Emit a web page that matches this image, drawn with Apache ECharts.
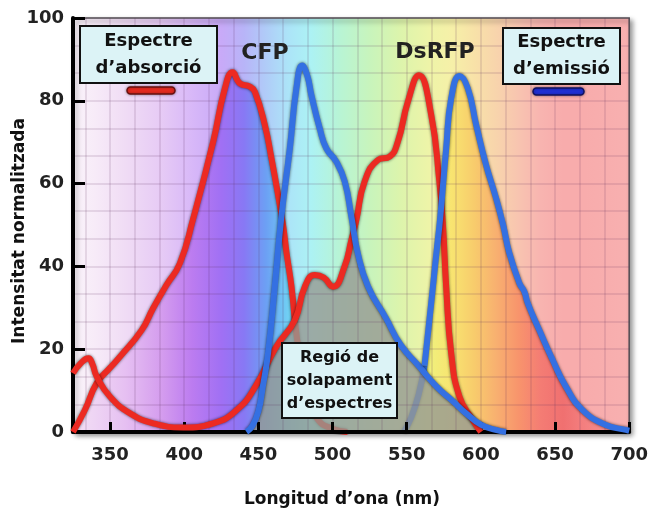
<!DOCTYPE html>
<html><head><meta charset="utf-8">
<script src="https://cdn.jsdelivr.net/npm/echarts@6/dist/echarts.min.js"></script>
<style>html,body{margin:0;padding:0;background:#fff}#c{width:651px;height:515px}</style>
</head><body><div id="c"></div>
<script>
// ---- data ----
const xTicks = [350, 400, 450, 500, 550, 600, 650, 700];
const yTicks = [0, 20, 40, 60, 80, 100];

// CFP absorption (red, visible part)
const cfpAbs = [[325,0],[333,5.3],[341,11.8],[350,15.5],[356.7,18.2],[371.3,24.6],[379,29.9],[388,35.5],[397,40.7],[406,51.5],[419.5,70.1],[427.4,83],[432.6,86.9],[437.5,84.2],[444.2,83.4],[447.6,82.2],[454.3,74.2],[458.8,66.1],[463.3,57.2],[466.6,50],[469,43.2],[472.3,35.1],[474.5,27]];
// CFP absorption tail hidden under the overlap region
const cfpAbsTail = [[474.5,27],[478,18],[483,9],[490,3],[500,0.8],[510,0]];
// DsRFP absorption (red)
const dsAbs = [[325,14.2],[330,16.5],[335.4,17.8],[338,16.5],[341,13.4],[350,8.5],[363.5,4.5],[379,2.1],[399.3,1.1],[419.5,2.1],[435.3,5.3],[448,11],[462,20.6],[474.5,27],[481.3,35.1],[488,37.9],[494,37.3],[500.3,35.1],[508,39.9],[512.7,46.4],[516,51.2],[521.6,60.5],[530.6,65.7],[538.5,66.5],[544,70.1],[550.8,79.8],[558.2,86.2],[566.5,76.6],[572,60.5],[574.4,50],[576.6,35.1],[580,19],[585.6,8.5],[594.5,2.9],[600,0]];
// CFP emission (blue)
const cfpEm = [[442,0],[446,1.5],[450,5],[453,11],[456.5,19],[461,35],[465.5,52],[471.2,68.5],[475.6,83],[479.5,88.5],[483,86],[485.7,81.4],[491.3,73.4],[495.8,68.5],[502.5,65.3],[508.2,60.5],[512.7,52],[517,43.2],[524,35.1],[536,27.5],[546,21],[558,16],[570,11],[581,7.5],[590,4.5],[600,1.8],[610,0.5],[617,0]];
// DsRFP emission start hidden under the overlap region
const dsEmHead = [[548,0],[553,3.5],[558,9],[562,16]];
// DsRFP emission (blue, visible part)
const dsEm = [[562,16],[566.5,31.1],[570,43.2],[572.5,51.5],[576.6,68.5],[580,80.6],[585.6,86],[591.2,83],[596.8,74.2],[603.5,64.5],[610.3,56.4],[615,50],[619.2,43.2],[626,35.9],[629.3,33.9],[631.6,31.1],[639.4,24.6],[648.4,17.4],[657.4,10.9],[668.6,5.3],[684.3,1.7],[697.8,0.5],[700,0.3]];
// Grey overlap region boundary
const overlap = [[442,0],[446,1.5],[450,5],[453,11],[455,15.5],[462,20.6],[474.5,27],[481.3,35.1],[488,37.9],[494,37.3],[500.3,35.1],[508,39.9],[512,45],[514.5,48.5],[517,43.2],[524,35.1],[536,27.5],[546,21],[558,16],[570,11],[581,7.5],[590,4.5],[597,1.2],[600,0]];

// ---- styles ----
const FONT = 'DejaVu Sans';
const GL = 73, GR = 630;
const bandNm = [325,340,360,385,405,425,440,455,470,485,505,525,545,565,580,595,610,625,640,655,670,700];
const washCol = ['#faf3fa','#f7ebf8','#f0dcf5','#e6caf5','#d8b8f8','#c8aaf8','#b8b4f8','#b0ccf8','#ace4f8','#acf2f4','#b8f4d4','#c8f4bc','#dcf4ac','#eef4a8','#f6f0a8','#f8e2a8','#f8d4ac','#f8c4b0','#f8b4b0','#f8acac','#f8acac','#f8b0b0'];
const satCol = ['#f4e0f4','#eed4f4','#e6c0f2','#d49cee','#bc7cf0','#a070f4','#8878f4','#6ca0f4','#70d0f4','#80ecec','#90f0c0','#b0f09c','#d4f08c','#f0f07c','#f8e470','#f8cc6c','#f8b070','#f8946c','#f47c74','#f07070','#f48080','#f89898'];
function grad(cols){
  return new echarts.graphic.LinearGradient(GL, 0, GR, 0,
    bandNm.map((n,i)=>({offset:(n-325)/375, color:cols[i]})), true);
}
const RED = '#ec2a22', BLUE = '#3470e2';
const SM = 0.5;
const gridLine = {show:true, lineStyle:{color:'rgba(90,50,90,0.13)', width:2}};
function curve(name, data, color, z){
  return {name, type:'line', data, z, smooth:SM, symbol:'none', silent:true,
    lineStyle:{color, width:6, shadowColor:'rgba(0,0,0,0.65)', shadowBlur:3}};
}
function area(data, color, z){
  return {type:'line', data, z, smooth:SM, symbol:'none', silent:true,
    lineStyle:{width:0}, areaStyle:{color, opacity:1}};
}

const chart = echarts.init(document.getElementById('c'));
chart.setOption({
  animation:false,
  grid:{left:GL, right:651-GR, top:18, bottom:83, show:true, borderColor:'#555', borderWidth:1.5,
    backgroundColor:grad(washCol), shadowColor:'rgba(0,0,0,0.45)', shadowBlur:5, shadowOffsetX:3, shadowOffsetY:3},
  xAxis:{type:'value', min:325, max:700, splitNumber:7, z:2,
    axisLine:{onZero:false, lineStyle:{color:'#000', width:4}},
    axisTick:{inside:true, length:10, customValues:xTicks, lineStyle:{color:'#000', width:3}},
    axisLabel:{customValues:xTicks, margin:14, color:'#222', fontFamily:FONT, fontWeight:'bold', fontSize:18},
    splitLine:gridLine, minorTick:{show:false, splitNumber:3}, minorSplitLine:gridLine},
  yAxis:{type:'value', min:0, max:100, interval:20, z:2,
    axisLine:{show:true, lineStyle:{color:'#000', width:4}},
    axisTick:{show:true, inside:true, length:12, lineStyle:{color:'#000', width:3}},
    axisLabel:{margin:9, color:'#222', fontFamily:FONT, fontWeight:'bold', fontSize:18},
    splitLine:gridLine, minorTick:{show:false, splitNumber:3}, minorSplitLine:gridLine},
  series:[
    area(cfpAbs.concat(cfpAbsTail.slice(1)), grad(satCol), 1),
    area(dsEmHead.concat(dsEm.slice(1)), grad(satCol), 1),
    curve('cfpAbsTail', cfpAbsTail, RED, 1.2),
    curve('dsEmHead', dsEmHead, BLUE, 1.2),
    area(overlap, 'rgba(150,152,146,0.8)', 1.5),
    curve('CFP absorció', cfpAbs, RED, 3),
    curve('DsRFP absorció', dsAbs, RED, 3),
    curve('CFP emissió', cfpEm, BLUE, 3),
    curve('DsRFP emissió', dsEm, BLUE, 3)
  ],
  graphic:[
    {type:'rect', z:10, shape:{x:80, y:26, width:137, height:57}, style:{fill:'#dcf3f6', stroke:'#111', lineWidth:2}},
    {type:'text', z:11, x:148.5, y:55, style:{text:'Espectre\nd’absorció', font:'bold 18px "DejaVu Sans"', fill:'#111', align:'center', verticalAlign:'middle', lineHeight:27}},
    {type:'rect', z:10, shape:{x:127, y:87, width:48, height:7, r:3.5}, style:{fill:'#e82a20', stroke:'#6a1010', lineWidth:1.5, shadowColor:'rgba(0,0,0,0.4)', shadowBlur:3}},
    {type:'rect', z:10, shape:{x:503, y:28, width:117, height:56}, style:{fill:'#dcf3f6', stroke:'#111', lineWidth:2}},
    {type:'text', z:11, x:561.5, y:56, style:{text:'Espectre\nd’emissió', font:'bold 18px "DejaVu Sans"', fill:'#111', align:'center', verticalAlign:'middle', lineHeight:27}},
    {type:'rect', z:10, shape:{x:533, y:88, width:51, height:7, r:3.5}, style:{fill:'#2030d8', stroke:'#101060', lineWidth:1.5, shadowColor:'rgba(0,0,0,0.4)', shadowBlur:3}},
    {type:'text', z:11, x:265, y:53, style:{text:'CFP', font:'bold 22px "DejaVu Sans"', fill:'#222', align:'center', verticalAlign:'middle'}},
    {type:'text', z:11, x:435, y:52, style:{text:'DsRFP', font:'bold 22px "DejaVu Sans"', fill:'#222', align:'center', verticalAlign:'middle'}},
    {type:'rect', z:10, shape:{x:282, y:343, width:115, height:75}, style:{fill:'#dcf3f6', stroke:'#111', lineWidth:2}},
    {type:'text', z:11, x:339.5, y:380.5, style:{text:'Regió de\nsolapament\nd’espectres', font:'bold 16px "DejaVu Sans"', fill:'#111', align:'center', verticalAlign:'middle', lineHeight:23}},
    {type:'text', z:11, x:342, y:500, style:{text:'Longitud d’ona (nm)', font:'bold 17px "DejaVu Sans"', fill:'#111', align:'center', verticalAlign:'middle'}},
    {type:'text', z:11, x:20, y:231, rotation:Math.PI/2, style:{text:'Intensitat normalitzada', font:'bold 17px "DejaVu Sans"', fill:'#111', align:'center', verticalAlign:'middle'}}
  ]
});
</script></body></html>
